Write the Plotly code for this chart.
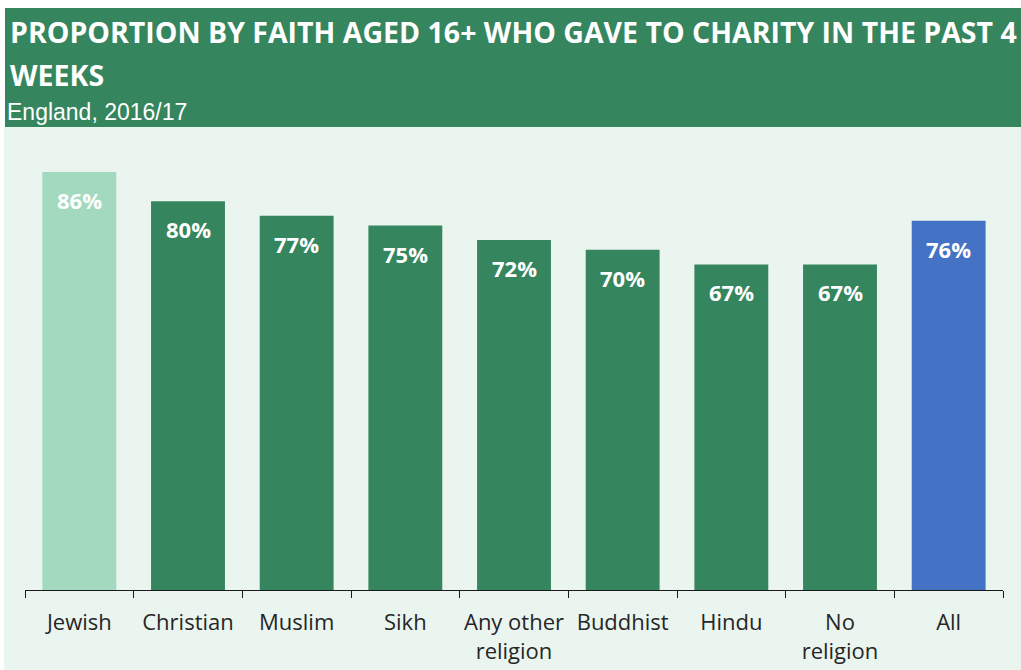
import plotly.graph_objects as go

# Data
faiths = ["Jewish", "Christian", "Muslim", "Sikh", "Any other<br>religion",
          "Buddhist", "Hindu", "No<br>religion", "All"]
gave_pct = [86, 80, 77, 75, 72, 70, 67, 67, 76]
bar_colors = ["#A3D9BE", "#35855E", "#35855E", "#35855E", "#35855E",
              "#35855E", "#35855E", "#35855E", "#4472C4"]

title_line1 = "PROPORTION BY FAITH AGED 16+ WHO GAVE TO CHARITY IN THE PAST 4"
title_line2 = "WEEKS"
subtitle = "England, 2016/17"

W, H = 1021, 670
HEADER_GREEN = "#35855E"
PANEL = "#EBF5EF"
PX_PER_PCT = 4.86


def px_x(x):
    return x / W


def px_y(y):
    return 1 - y / H


fig = go.Figure()
fig.add_trace(go.Bar(
    x=faiths,
    y=gave_pct,
    marker=dict(color=bar_colors, line=dict(width=0)),
    hoverinfo="skip",
))

# Value labels just inside the top of each bar
for cat, val in zip(faiths, gave_pct):
    fig.add_annotation(
        x=cat, y=val, xref="x", yref="y",
        text=f"<b>{val}%</b>", showarrow=False,
        yanchor="middle", yshift=-28,
        font=dict(family="Open Sans", size=22, color="white"),
    )

# Header band and chart panel
fig.add_shape(type="rect", xref="paper", yref="paper",
              x0=px_x(4), x1=1.0, y0=0, y1=px_y(127),
              fillcolor=PANEL, line=dict(width=0), layer="below")
fig.add_shape(type="rect", xref="paper", yref="paper",
              x0=px_x(5), x1=1.0, y0=px_y(127), y1=px_y(8),
              fillcolor=HEADER_GREEN, line=dict(width=0), layer="below")

fig.add_annotation(xref="paper", yref="paper", x=px_x(8), y=px_y(32),
                   xanchor="left", yanchor="middle", showarrow=False,
                   text=f"<b>{title_line1}</b>",
                   font=dict(family="Open Sans", size=28.5, color="white"))
fig.add_annotation(xref="paper", yref="paper", x=px_x(8), y=px_y(75),
                   xanchor="left", yanchor="middle", showarrow=False,
                   text=f"<b>{title_line2}</b>",
                   font=dict(family="Open Sans", size=28.5, color="white"))
fig.add_annotation(xref="paper", yref="paper", x=px_x(5), y=px_y(112),
                   xanchor="left", yanchor="middle", showarrow=False,
                   text=subtitle,
                   font=dict(family="Liberation Sans", size=23, color="white"))

fig.update_layout(
    width=W, height=H,
    margin=dict(l=0, r=0, t=0, b=0, autoexpand=False),
    paper_bgcolor="white",
    plot_bgcolor="rgba(0,0,0,0)",
    bargap=0.32,
    showlegend=False,
    xaxis=dict(
        domain=[px_x(25), px_x(1003)],
        showline=True, linecolor="#1a1a1a", linewidth=1,
        ticks="outside", tickson="boundaries", ticklen=7,
        tickcolor="#1a1a1a", ticklabelstandoff=13,
        tickangle=0, automargin=False,
        tickfont=dict(family="Open Sans", size=22, color="#262626"),
        showgrid=False, fixedrange=True,
    ),
    yaxis=dict(
        domain=[px_y(590), px_y(150)],
        range=[0, 440 / PX_PER_PCT],
        visible=False, showgrid=False, zeroline=False, fixedrange=True,
        automargin=False,
    ),
)

fig.write_html("out.html")
